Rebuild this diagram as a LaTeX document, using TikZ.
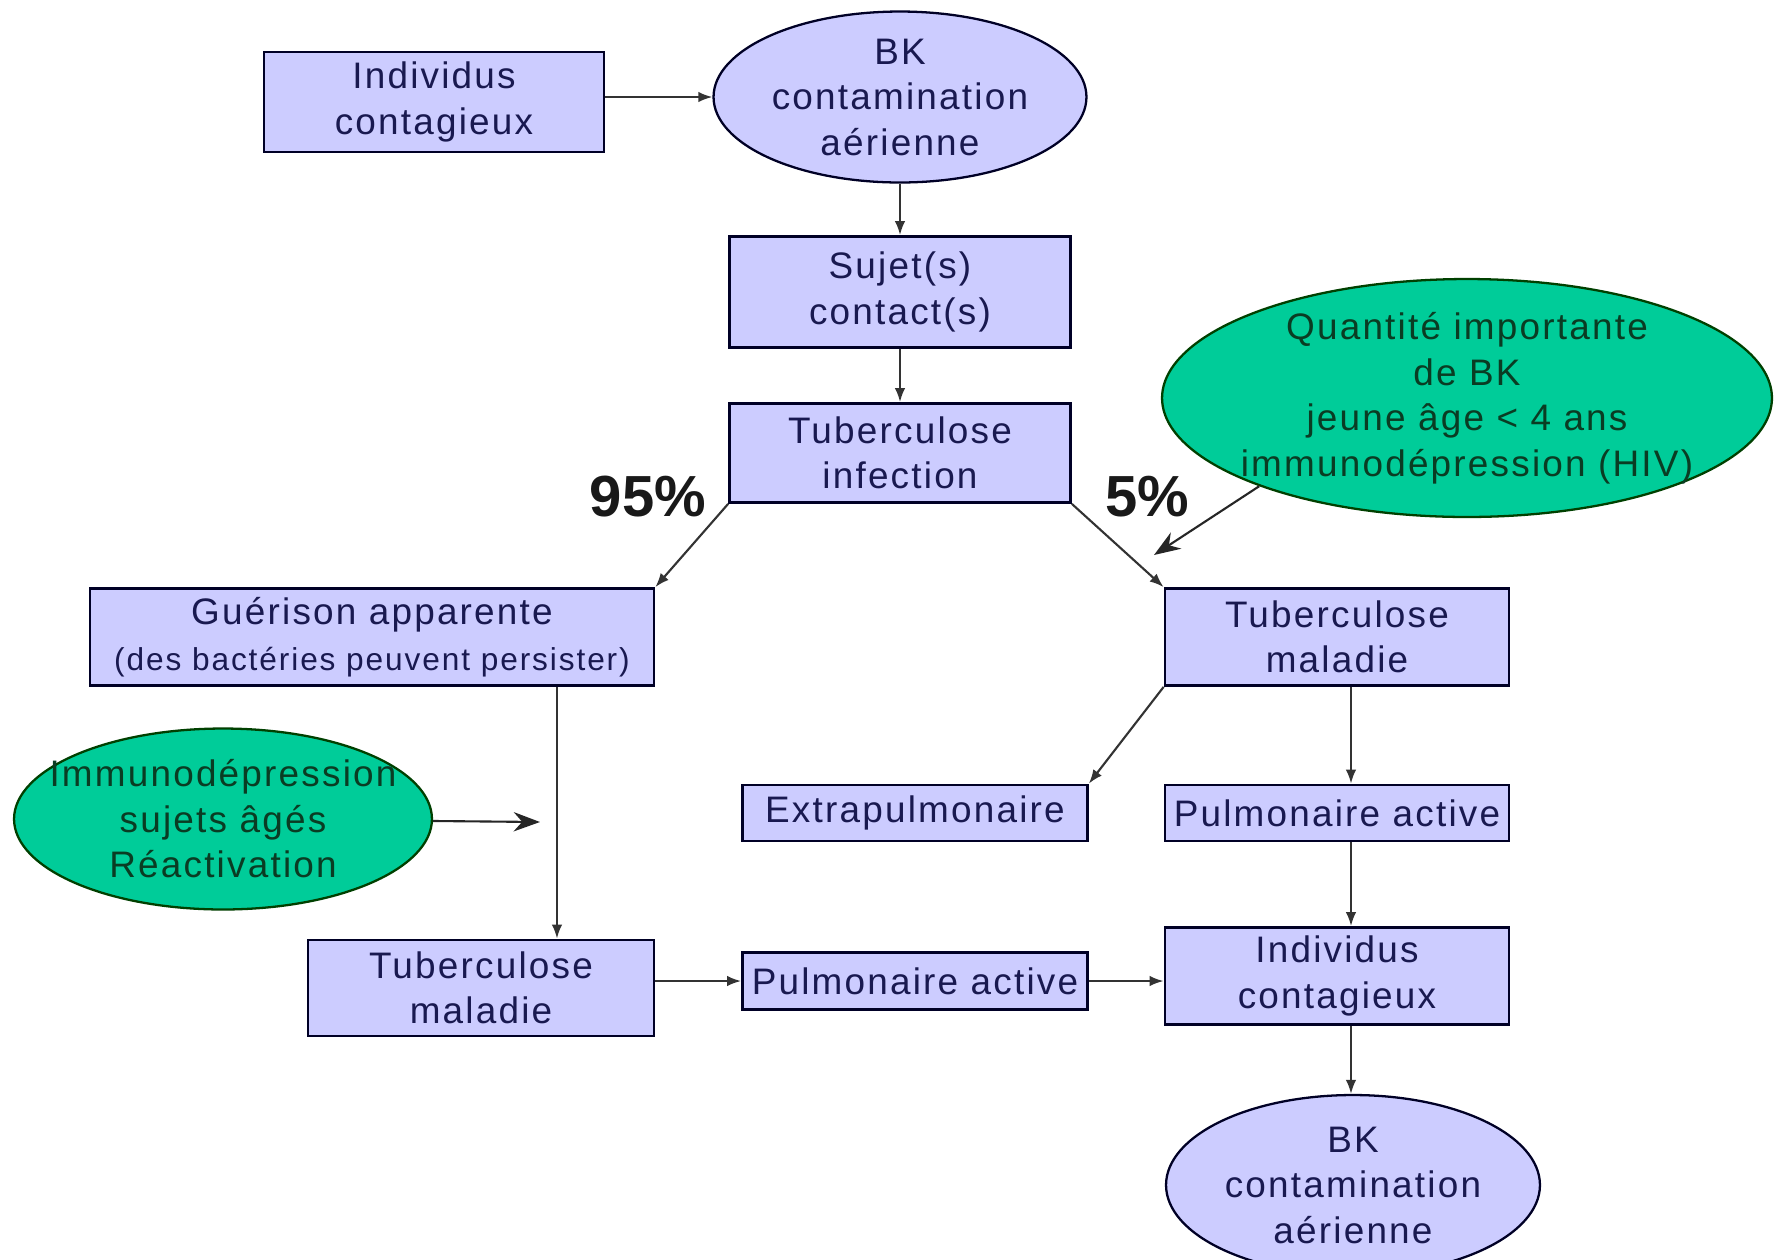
\documentclass[tikz,border=0pt]{standalone}
\usepackage{fontspec}
\setmainfont[LetterSpace=6]{Liberation Sans}
\newfontfamily\pctfont{Liberation Sans}
\usetikzlibrary{shapes.geometric,arrows.meta}
\definecolor{box area}{RGB}{204,204,255}
\definecolor{oval area}{RGB}{0,204,153}
\definecolor{box text}{RGB}{25,25,80}
\definecolor{oval text}{RGB}{10,60,35}
\colorlet{box edge}{black!85!blue}
\colorlet{oval edge}{black!75!green}
\def\boxfont{\fontsize{21}{25.9}\selectfont}
\tikzset{etape/.style={rectangle, fill=box area, draw=box edge, line width=1.6pt,
		text=box text, align=center, inner sep=0pt, font=\boxfont},
	bulle/.style={ellipse, fill=box area, draw=box edge, line width=1.3pt,
		text=box text, align=center, inner sep=-0.8cm, font=\boxfont},
	facteur/.style={bulle, fill=oval area, draw=oval edge, text=oval text},
	fleche/.style={-{Latex[length=8pt,width=6pt]}, line width=1.2pt, draw=black!80},
	grosse/.style={-{Stealth[length=15pt,width=11pt]}, line width=1.2pt, draw=black!85},
	pourcent/.style={font=\pctfont\bfseries\fontsize{33}{33}\selectfont, text=black!90}}

\begin{document}
\begin{tikzpicture}[x=0.02cm, y=-0.02cm]
		\path[use as bounding box, fill=white] (0,0) rectangle (1783,1259);
		\clip (0,0) rectangle (1783,1259);
		% colonne du haut
		\node[etape, minimum width=6.8cm, minimum height=2cm] (ind1) at (434,102) {Individus\\contagieux};
		\node[bulle, minimum width=7.46cm, minimum height=3.42cm] (bk1) at (900,97) {BK\\contamination\\aérienne};
		\node[etape, minimum width=6.82cm, minimum height=2.22cm] (sujet) at (900,292) {Sujet(s)\\contact(s)};
		\node[etape, minimum width=6.82cm, minimum height=1.98cm] (tbinf) at (900,453) {Tuberculose\\infection};
		\node[facteur, minimum width=12.2cm, minimum height=4.76cm] (quant) at (1467,398) {Quantité importante\\de BK\\jeune âge < 4 ans\\immunodépression (HIV)};
		\node[pourcent] (p95) at (648,497) {95\%};
		\node[pourcent] (p5) at (1147,497) {5\%};
		
		% branche 95%
		\node[etape, minimum width=11.28cm, minimum height=1.94cm] (gueri) at (372,637) {Guérison apparente\\{\fontsize{18}{22}\selectfont (des bactéries peuvent persister)}};
		\node[facteur, minimum width=8.36cm, minimum height=3.62cm] (immuno) at (223,819) {Immunodépression\\sujets âgés\\Réactivation};
		\node[etape, minimum width=6.92cm, minimum height=1.92cm] (tbmal2) at (481,988) {Tuberculose\\maladie};
		\node[etape, minimum width=6.9cm, minimum height=1.14cm] (pulm2) at (915,981) {Pulmonaire active};
		
		% branche 5%
		\node[etape, minimum width=6.88cm, minimum height=1.94cm] (tbmal1) at (1337,637) {Tuberculose\\maladie};
		\node[etape, minimum width=6.9cm, minimum height=1.12cm] (extra) at (915,813) {Extrapulmonaire};
		\node[etape, minimum width=6.88cm, minimum height=1.12cm] (pulm1) at (1337,813) {Pulmonaire active};
		\node[etape, minimum width=6.88cm, minimum height=1.94cm] (ind2) at (1337,976) {Individus\\contagieux};
		\node[bulle, minimum width=7.48cm, minimum height=3.6cm] (bk2) at (1353,1185) {BK\\contamination\\aérienne};
		
		\coordinate (tip5) at (1154,555);
		\coordinate (reac) at (540,822);
		
		\draw[fleche] (ind1.east |- bk1.west) -- (bk1.west);
		\draw[fleche] (bk1) -- (sujet);
		\draw[fleche] (sujet) -- (tbinf);
		\draw[fleche] (tbinf.south west) -- (gueri.north east);
		\draw[fleche] (tbinf.south east) -- (tbmal1.north west);
		\draw[grosse] (quant.203) -- (tip5);
		\draw[grosse] (immuno) -- (reac);
		\draw[fleche] ([xshift=1.52cm]tbmal2.north |- gueri.south) -- ([xshift=1.52cm]tbmal2.north);
		\draw[fleche] (tbmal2.east |- pulm2.west) -- (pulm2.west);
		\draw[fleche] (pulm2.east) -- (pulm2.east -| ind2.west);
		\draw[fleche] (tbmal1.south west) -- (extra.north east);
		\draw[fleche] ([xshift=0.28cm]tbmal1.south) -- ([xshift=0.28cm]pulm1.north);
		\draw[fleche] ([xshift=0.28cm]pulm1.south) -- ([xshift=0.28cm]ind2.north);
		\draw[fleche] ([xshift=0.28cm]ind2.south) -- ([xshift=0.28cm]ind2.south |- bk2.north);
\end{tikzpicture}
\end{document}
